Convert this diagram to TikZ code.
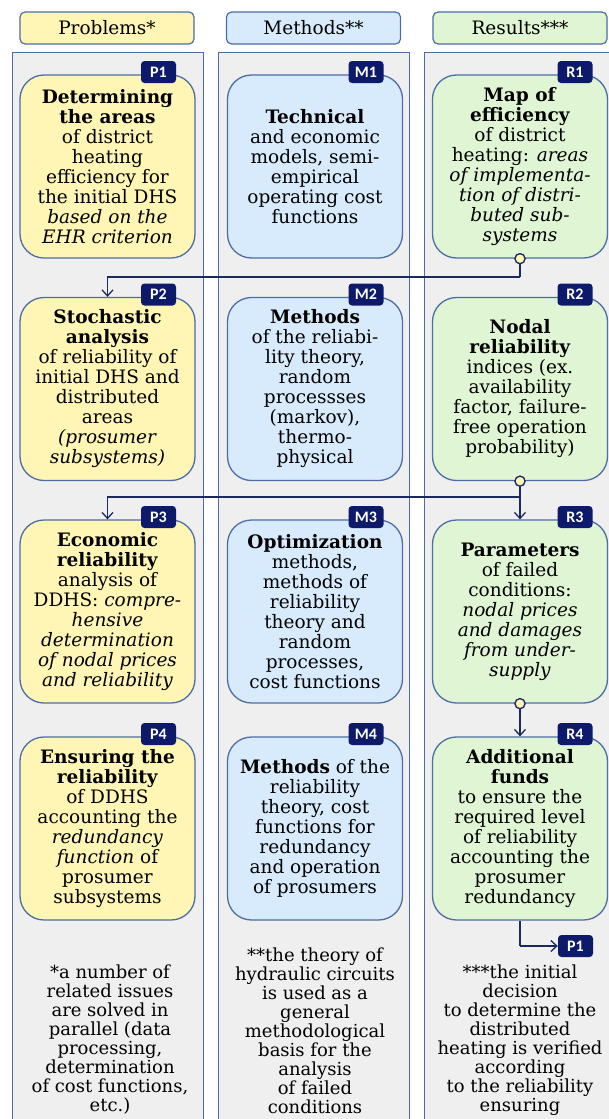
\documentclass[tikz,border=0pt]{standalone}
\usepackage{fontspec}
\setmainfont{DejaVu Serif}
\newfontfamily\tagfont{Carlito}
\usetikzlibrary{arrows.meta}
\definecolor{ylw}{HTML}{FFF5B4}
\definecolor{blu}{HTML}{D8EBFC}
\definecolor{grn}{HTML}{E0F5D4}
\definecolor{bord}{HTML}{4C6DA6}
\definecolor{navy}{HTML}{0D1A6B}
\definecolor{lnk}{HTML}{1A2A5E}
\definecolor{panelfill}{HTML}{EFEFEF}
\tikzset{
  panel/.style={draw=bord, line width=0.9pt, fill=panelfill},
  head/.style={draw=bord, line width=1.2pt, rounded corners=5pt, minimum width=174pt, minimum height=32pt, inner sep=0pt, font=\fontsize{18.5}{20}\selectfont},
  box/.style={draw=bord, line width=1.3pt, rounded corners=24pt, minimum width=175pt, minimum height=183pt, align=center, inner sep=0pt, font=\fontsize{18.5}{20}\selectfont},
  tag/.style={fill=navy, rounded corners=3.5pt, minimum width=35pt, minimum height=22pt, inner sep=0pt, text=white, font=\tagfont\bfseries\fontsize{16}{16}\selectfont},
  dot/.style={circle, draw=lnk, line width=1.2pt, fill=ylw, minimum size=10pt, inner sep=0pt},
  link/.style={draw=lnk, line width=1.5pt},
  arr/.style={link, -{Straight Barb[length=6pt,width=11pt,line width=1.3pt]}},
  note/.style={align=center, inner sep=0pt, font=\fontsize{18}{19}\selectfont}
}
\begin{document}
\begin{tikzpicture}[x=1pt,y=-1pt]
\useasboundingbox (0,0) rectangle (608,1119);
% panels
\fill[white] (0,0) rectangle (608,1119);
\path[panel] (12,52) rectangle (203,1130);
\path[panel] (218,52) rectangle (409,1130);
\path[panel] (424,52) rectangle (620,1130);
% headers
\node[head, fill=ylw] (hP) at (107,28) {Problems*};
\node[head, fill=blu] (hM) at (313.5,28) {Methods**};
\node[head, fill=grn] (hR) at (520,28) {Results***};
% row 1
\node[box, fill=ylw] (P1) at (107.5,166.5) {\textbf{Determining}\\\textbf{the areas}\\of district\\heating\\efficiency for\\the initial DHS\\\textit{based on the}\\\textit{EHR criterion}};
\node[box, fill=blu] (M1) at (315,166.5) {\textbf{Technical}\\and economic\\models, semi-\\empirical\\operating cost\\functions};
\node[box, fill=grn] (R1) at (520,166.5) {\textbf{Map of}\\\textbf{efficiency}\\of district\\heating: \textit{areas}\\\textit{of implementa-}\\\textit{tion of distri-}\\\textit{buted sub-}\\\textit{systems}};
% row 2
\node[box, fill=ylw] (P2) at (107.5,389) {\textbf{Stochastic}\\\textbf{analysis}\\of reliability of\\initial DHS and\\distributed\\areas\\\textit{(prosumer}\\\textit{subsystems)}};
\node[box, fill=blu] (M2) at (315,389) {\textbf{Methods}\\of the reliabi-\\lity theory,\\random\\processses\\(markov),\\thermo-\\physical};
\node[box, fill=grn] (R2) at (520,389) {\textbf{Nodal}\\\textbf{reliability}\\indices (ex.\\availability\\factor, failure-\\free operation\\probability)};
% row 3
\node[box, fill=ylw] (P3) at (107.5,611.5) {\textbf{Economic}\\\textbf{reliability}\\analysis of\\DDHS: \textit{compre-}\\\textit{hensive}\\\textit{determination}\\\textit{of nodal prices}\\\textit{and reliability}};
\node[box, fill=blu] (M3) at (315,611.5) {\textbf{Optimization}\\methods,\\methods of\\reliability\\theory and\\random\\processes,\\cost functions};
\node[box, fill=grn] (R3) at (520,611.5) {\textbf{Parameters}\\of failed\\conditions:\\\textit{nodal prices}\\\textit{and damages}\\\textit{from under-}\\\textit{supply}};
% row 4
\node[box, fill=ylw] (P4) at (107.5,828.5) {\textbf{Ensuring the}\\\textbf{reliability}\\of DDHS\\accounting the\\\textit{redundancy}\\\textit{function} of\\prosumer\\subsystems};
\node[box, fill=blu] (M4) at (315,828.5) {\textbf{Methods} of the\\reliability\\theory, cost\\functions for\\redundancy\\and operation\\of prosumers};
\node[box, fill=grn] (R4) at (520,828.5) {\textbf{Additional}\\\textbf{funds}\\to ensure the\\required level\\of reliability\\accounting the\\prosumer\\redundancy};
% tags
\node[tag] (tP1) at (158.5,72) {P1};
\node[tag] (tM1) at (366,72) {M1};
\node[tag] (tR1) at (575,72) {R1};
\node[tag] (tP2) at (158.5,294.5) {P2};
\node[tag] (tM2) at (366,294.5) {M2};
\node[tag] (tR2) at (575,294.5) {R2};
\node[tag] (tP3) at (158.5,517) {P3};
\node[tag] (tM3) at (366,517) {M3};
\node[tag] (tR3) at (575,517) {R3};
\node[tag] (tP4) at (158.5,734) {P4};
\node[tag] (tM4) at (366,734) {M4};
\node[tag] (tR4) at (575,734) {R4};
\node[tag] (tPb) at (575.5,946) {P1};
% connectors
\node[dot] (c1) at (R1.south) {};
\node[dot] (c2) at (R2.south) {};
\node[dot] (c3) at (R3.south) {};
\coordinate (j1) at (520,277);
\coordinate (j2) at (520,497);
\coordinate (j4) at (520,946);
\draw[link] (c1) -- (j1);
\draw[arr] (j1) -| (P2.north);
\draw[link] (c2) -- (j2);
\draw[arr] (j2) -| (P3.north);
\draw[arr] (j2) -- (R3.north);
\draw[arr] (c3) -- (R4.north);
\draw[link] (R4.south) -- (j4);
\draw[arr] (j4) -- (tPb.west);
\node[dot] at (R1.south) {};
\node[dot] at (R2.south) {};
\node[dot] at (R3.south) {};
% notes
\node[note] (nP) at (110,1040) {*a number of\\related issues\\are solved in\\parallel (data\\processing,\\determination\\of cost functions,\\etc.)};
\node[note] (nM) at (315,1031) {**the theory of\\hydraulic circuits\\is used as a\\general\\methodological\\basis for the\\analysis\\of failed\\conditions};
\node[note] (nR) at (520,1040) {***the initial\\decision\\to determine the\\distributed\\heating is verified\\according\\to the reliability\\ensuring};
\end{tikzpicture}
\end{document}
